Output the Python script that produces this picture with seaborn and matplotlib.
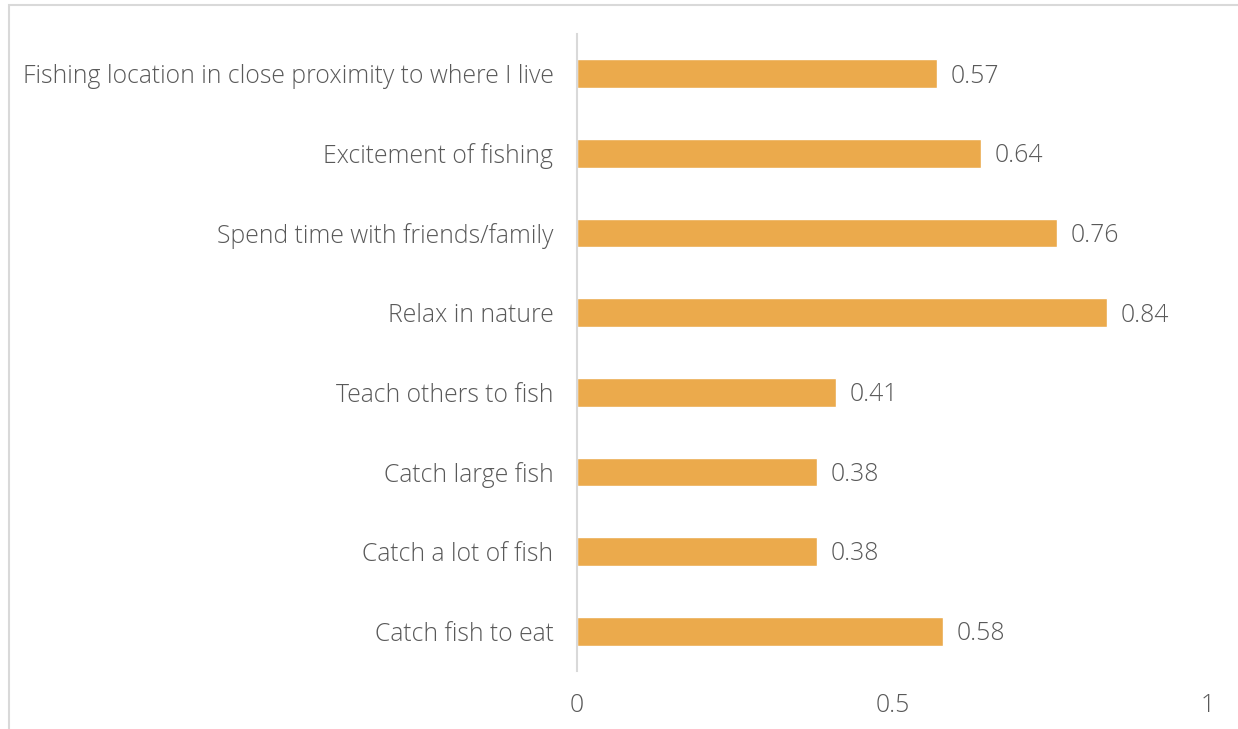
import matplotlib
matplotlib.use("Agg")
import matplotlib.pyplot as plt
from matplotlib.patches import Rectangle
import seaborn as sns
import pandas as pd

categories = [
    "Fishing location in close proximity to where I live",
    "Excitement of fishing",
    "Spend time with friends/family",
    "Relax in nature",
    "Teach others to fish",
    "Catch large fish",
    "Catch a lot of fish",
    "Catch fish to eat",
]
values = [0.57, 0.64, 0.76, 0.84, 0.41, 0.38, 0.38, 0.58]
x_ticks = [0, 0.5, 1]
x_tick_labels = ["0", "0.5", "1"]

df = pd.DataFrame({"reason": categories, "value": values})

sns.set_theme(style="white")
plt.rcParams["font.family"] = ["Open Sans", "DejaVu Sans"]

W, H = 1238, 729
fig = plt.figure(figsize=(W / 100, H / 100), dpi=100)
ax = fig.add_axes([577 / W, 1 - 671 / H, (1208 - 577) / W, (671 - 34) / H])

bar_color = "#EBAA4C"
sns.barplot(data=df, x="value", y="reason", orient="h", color=bar_color,
            width=0.36, saturation=1, ax=ax)

text_color = "#595959"
fs = 17.8
for i, v in enumerate(values):
    ax.text(v + 0.022, i + 0.03, f"{v:.2f}", va="center", ha="left",
            fontsize=fs, color=text_color, fontweight="light")

ax.set_xlim(0, 1)
ax.set_ylim(len(categories) - 0.5, -0.5)
ax.set_xticks(x_ticks)
ax.set_xticklabels(x_tick_labels)
ax.set_xlabel("")
ax.set_ylabel("")
ax.tick_params(axis="x", length=0, pad=16, labelsize=fs, labelcolor=text_color)
ax.tick_params(axis="y", length=0, pad=17, labelsize=fs, labelcolor=text_color)
for lab in ax.get_xticklabels() + ax.get_yticklabels():
    lab.set_fontweight("light")

for s in ["top", "right", "bottom"]:
    ax.spines[s].set_visible(False)
ax.spines["left"].set_color("#D9D9D9")
ax.spines["left"].set_linewidth(1.5)

# light frame around the chart area
frame = Rectangle((9 / W, -0.1), 1.2, 1 - 5 / H + 0.1, transform=fig.transFigure,
                  fill=False, edgecolor="#D9D9D9", linewidth=1.5, clip_on=False)
fig.patches.append(frame)

fig.savefig("out.png", dpi=100)
